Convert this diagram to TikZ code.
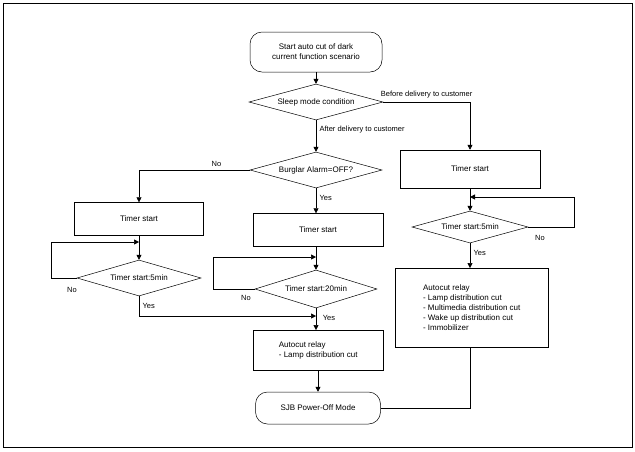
\documentclass[tikz,border=0pt]{standalone}
\usepackage{fontspec}
\setmainfont{Liberation Sans}
\usetikzlibrary{shapes.geometric, arrows.meta, positioning}
\tikzstyle{flow}=[-{Triangle[length=5pt,width=5pt]}]
\tikzstyle{term}=[draw, rounded corners=12pt, align=center, inner sep=2pt]
\tikzstyle{decide}=[draw, diamond, shape aspect=3.5, inner sep=0pt]
\tikzstyle{timer}=[draw, align=center]
\tikzstyle{relay}=[draw, align=left, anchor=north west, inner sep=4pt]
\tikzstyle{lbl}=[font=\fontsize{7.5}{9}\selectfont]

\begin{document}
\begin{tikzpicture}[x=1pt, y=-1pt, font=\fontsize{8}{10}\selectfont, line width=0.5pt]
			\useasboundingbox (0,0) rectangle (635,451);
			\draw[line width=0.8pt] (3,3) rectangle (632,447);

			% Start and first decision
			\node[term, minimum width=132pt, minimum height=40pt] (start) at (316,52) {Start auto cut of dark\\current function scenario};
			\node[decide, minimum width=134pt, minimum height=36pt] (sleep) at (316,102) {Sleep mode condition};
			\node[decide, minimum width=132pt, minimum height=36pt] (alarm) at (316,170) {Burglar Alarm=OFF?};

			% Timer boxes
			\node[timer, minimum width=129pt, minimum height=33pt] (tl) at (139,219) {Timer start};
			\node[timer, minimum width=130pt, minimum height=33pt] (tm) at (318,230) {Timer start};
			\node[timer, minimum width=140pt, minimum height=38pt] (tr) at (470,169) {Timer start};

			% Timer decisions
			\node[decide, minimum width=124pt, minimum height=36pt] (dl) at (139,278) {Timer start:5min};
			\node[decide, minimum width=122pt, minimum height=38pt] (dm) at (316,289) {Timer start:20min};
			\node[decide, minimum width=116pt, minimum height=32pt] (dr) at (470,227) {Timer start:5min};

			% Relays and end
			\node[relay, minimum width=130pt, minimum height=40pt] (rm) at (253,330) {Autocut relay\\- Lamp distribution cut};
			\node[relay, minimum width=153pt, minimum height=79pt] (rr) at (395,268) {Autocut relay\\- Lamp distribution cut\\- Multimedia distribution cut\\- Wake up distribution cut\\- Immobilizer};
			\node[term, minimum width=125pt, minimum height=32pt] (sjb) at (318,408) {SJB Power-Off Mode};

			\coordinate (jm) at (316,316);

			% Connectors
			\draw[flow] (start) -- (sleep);
			\draw[flow] (sleep) -- node[lbl, right, pos=0.3] {After delivery to customer} (alarm);
			\draw[flow] (sleep.east) -| node[lbl, above, pos=0.25] {Before delivery to customer} (tr.north);
			\draw[flow] (alarm.west) -| node[lbl, above, pos=0.15] {No} (tl.north);
			\draw[flow] (alarm.south) -- node[lbl, right, pos=0.4] {Yes} (tm.north -| alarm.south);

			\draw[flow] (tl.south) -- (dl.north);
			\draw[flow] (dl.west) -- ++(-26,0) |- (139,242);
			\node[lbl] at (72,290) {No};
			\draw[flow] (dl.south) |- node[lbl, right, pos=0.25] {Yes} (jm);

			\draw[flow] (tm.south -| dm.north) -- (dm.north);
			\draw[flow] (dm.west) -- ++(-42,0) |- (316,257);
			\node[lbl] at (246,298) {No};
			\draw[flow] (dm.south) -- (rm.north -| dm.south);
			\node[lbl] at (329,318) {Yes};

			\draw[flow] (tr.south) -- (dr.north);
			\draw[flow] (dr.east) -- ++(46,0) |- (470,197);
			\node[lbl] at (540,238) {No};
			\draw[flow] (dr.south) -- node[lbl, right, pos=0.4] {Yes} (rr.north -| dr.south);

			\draw[flow] (rm.south -| sjb.north) -- (sjb.north);
			\draw (rr.south -| dr.south) |- (sjb.east);
		\end{tikzpicture}
\end{document}
